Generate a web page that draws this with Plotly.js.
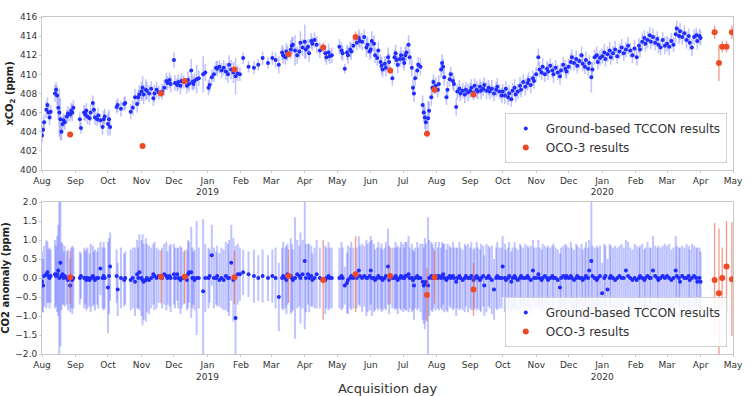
<!DOCTYPE html>
<html>
<head>
<meta charset="utf-8">
<script src="https://cdn.plot.ly/plotly-3.0.1.min.js"></script>
<style>html,body{margin:0;padding:0;background:#fff;}#chart{width:750px;height:396px;}</style>
</head>
<body>
<div id="chart"></div>
<script>
// ---- TCCON ground-based daily results ----
const tcconDates = [
"2018-08-01","2018-08-02","2018-08-03","2018-08-05","2018-08-06","2018-08-07","2018-08-08","2018-08-09","2018-08-13","2018-08-14","2018-08-15","2018-08-16","2018-08-17","2018-08-18","2018-08-19","2018-08-20","2018-08-21","2018-08-22","2018-08-24","2018-08-25","2018-08-27","2018-08-28","2018-08-29","2018-08-30",
"2018-09-05","2018-09-06","2018-09-09","2018-09-10","2018-09-11","2018-09-12","2018-09-14","2018-09-15","2018-09-17","2018-09-18","2018-09-19","2018-09-21","2018-09-22","2018-09-24","2018-09-26","2018-09-27","2018-09-28",
"2018-10-01","2018-10-02","2018-10-03","2018-10-09","2018-10-10","2018-10-13","2018-10-16","2018-10-17","2018-10-22","2018-10-24","2018-10-26","2018-10-28","2018-10-29","2018-10-30",
"2018-11-01","2018-11-02","2018-11-03","2018-11-05","2018-11-06","2018-11-08","2018-11-10","2018-11-12","2018-11-13","2018-11-15","2018-11-17","2018-11-20","2018-11-22","2018-11-24","2018-11-25","2018-11-27","2018-11-28",
"2018-12-01","2018-12-02","2018-12-04","2018-12-05","2018-12-07","2018-12-08","2018-12-10","2018-12-13","2018-12-14","2018-12-15","2018-12-17","2018-12-18","2018-12-19","2018-12-20","2018-12-22","2018-12-24","2018-12-28","2018-12-30",
"2019-01-02","2019-01-03","2019-01-05","2019-01-07","2019-01-09","2019-01-10","2019-01-12","2019-01-14","2019-01-16","2019-01-18","2019-01-20","2019-01-21","2019-01-23","2019-01-25","2019-01-27","2019-01-29","2019-01-31",
"2019-02-03","2019-02-08","2019-02-13","2019-02-17","2019-02-21","2019-02-26",
"2019-03-02","2019-03-05","2019-03-08","2019-03-11","2019-03-12","2019-03-14","2019-03-15","2019-03-16","2019-03-19","2019-03-20","2019-03-21","2019-03-23","2019-03-25","2019-03-27","2019-03-28","2019-03-30",
"2019-04-01","2019-04-02","2019-04-04","2019-04-05","2019-04-07","2019-04-08","2019-04-10","2019-04-12","2019-04-15","2019-04-20","2019-04-21","2019-04-23","2019-04-24","2019-04-26",
"2019-05-03","2019-05-05","2019-05-06","2019-05-08","2019-05-10","2019-05-11","2019-05-13","2019-05-14","2019-05-16","2019-05-19","2019-05-21","2019-05-22","2019-05-24","2019-05-26","2019-05-28","2019-05-29","2019-05-31",
"2019-06-01","2019-06-02","2019-06-04","2019-06-05","2019-06-07","2019-06-08","2019-06-10","2019-06-11","2019-06-12","2019-06-14","2019-06-15","2019-06-17","2019-06-18","2019-06-21","2019-06-23","2019-06-24","2019-06-25","2019-06-26","2019-06-28","2019-06-29",
"2019-07-01","2019-07-02","2019-07-03","2019-07-04","2019-07-06","2019-07-07","2019-07-09","2019-07-10","2019-07-11","2019-07-12","2019-07-14","2019-07-15","2019-07-17","2019-07-19","2019-07-20","2019-07-21","2019-07-22","2019-07-24","2019-07-25","2019-07-27","2019-07-28","2019-07-29","2019-07-31",
"2019-08-02","2019-08-03","2019-08-05","2019-08-06","2019-08-07","2019-08-08","2019-08-10","2019-08-11","2019-08-13","2019-08-14","2019-08-16","2019-08-17","2019-08-19","2019-08-20","2019-08-22","2019-08-23","2019-08-25","2019-08-27","2019-08-28","2019-08-30",
"2019-09-01","2019-09-02","2019-09-04","2019-09-05","2019-09-07","2019-09-08","2019-09-10","2019-09-11","2019-09-13","2019-09-14","2019-09-16","2019-09-18","2019-09-19","2019-09-21","2019-09-23","2019-09-25","2019-09-26","2019-09-28","2019-09-30",
"2019-10-01","2019-10-03","2019-10-04","2019-10-06","2019-10-07","2019-10-09","2019-10-10","2019-10-12","2019-10-13","2019-10-15","2019-10-17","2019-10-18","2019-10-20","2019-10-22","2019-10-24","2019-10-25","2019-10-27","2019-10-29","2019-10-30",
"2019-11-01","2019-11-03","2019-11-04","2019-11-06","2019-11-07","2019-11-09","2019-11-11","2019-11-12","2019-11-14","2019-11-16","2019-11-17","2019-11-19","2019-11-21","2019-11-23","2019-11-24","2019-11-26","2019-11-28","2019-11-29",
"2019-12-01","2019-12-03","2019-12-04","2019-12-06","2019-12-08","2019-12-09","2019-12-11","2019-12-13","2019-12-14","2019-12-16","2019-12-17","2019-12-19","2019-12-20","2019-12-22","2019-12-23","2019-12-25","2019-12-27","2019-12-28","2019-12-30",
"2020-01-01","2020-01-03","2020-01-04","2020-01-06","2020-01-08","2020-01-09","2020-01-11","2020-01-13","2020-01-15","2020-01-17","2020-01-19","2020-01-21","2020-01-23","2020-01-25","2020-01-27","2020-01-29","2020-01-31",
"2020-02-02","2020-02-04","2020-02-05","2020-02-07","2020-02-09","2020-02-10","2020-02-12","2020-02-14","2020-02-15","2020-02-17","2020-02-19","2020-02-21","2020-02-22","2020-02-24","2020-02-26","2020-02-28",
"2020-03-01","2020-03-03","2020-03-05","2020-03-07","2020-03-09","2020-03-10","2020-03-12","2020-03-13","2020-03-15","2020-03-17","2020-03-19","2020-03-21","2020-03-22","2020-03-24","2020-03-26","2020-03-28","2020-03-29","2020-03-31","2020-04-01"
];
const tcconXco2 = [
403.6,404.2,405.0,406.3,406.8,406.0,405.5,406.1,408.0,408.4,407.8,406.5,406.0,405.3,404.0,404.8,405.2,405.0,405.6,405.9,405.8,406.2,406.0,406.5,
405.3,404.4,406.0,405.8,406.2,405.6,405.4,406.0,407.0,406.3,405.5,405.3,405.7,405.2,404.5,405.3,405.6,
404.8,405.3,404.5,406.6,406.8,406.4,406.9,407.0,406.1,406.5,407.6,406.9,407.6,407.9,
408.2,408.6,407.9,408.4,408.3,408.0,408.5,407.5,408.0,408.4,408.1,408.2,408.6,409.3,409.1,409.4,409.0,
411.5,409.1,408.9,409.2,408.8,409.3,409.2,408.8,409.4,409.0,410.4,409.2,409.0,409.3,409.5,409.6,410.0,410.2,
408.6,408.9,409.7,410.0,410.7,410.6,410.8,410.4,410.7,410.3,410.0,411.0,410.5,410.2,409.8,410.1,410.0,
411.7,410.8,410.7,411.0,411.7,411.2,
411.7,411.5,411.0,412.3,412.0,411.8,412.4,412.2,412.6,413.0,413.1,412.5,412.0,412.4,413.3,412.8,
413.4,412.6,412.9,412.2,413.5,413.2,413.6,413.1,412.5,412.2,411.8,412.3,411.9,412.0,
412.9,412.5,412.2,410.6,412.3,412.0,412.6,412.4,413.0,413.3,413.8,413.5,413.4,413.9,412.8,413.1,412.4,
412.6,413.5,413.2,412.0,411.7,412.5,411.3,410.9,410.5,411.1,410.7,411.8,411.3,409.6,411.8,412.2,411.5,411.0,411.6,412.0,
411.6,411.2,412.0,412.3,413.1,411.8,410.7,408.6,408.0,409.6,410.4,411.0,410.8,406.8,406.0,405.5,405.0,405.4,406.2,407.6,408.6,409.2,408.8,
408.4,409.0,410.5,411.2,410.8,409.7,407.6,408.4,409.5,410.0,409.3,409.0,406.6,408.2,408.5,408.0,408.3,407.9,408.4,408.1,
408.3,408.6,408.1,408.8,408.4,408.2,408.7,408.3,408.5,408.9,408.3,408.6,408.2,408.5,408.0,408.4,408.7,408.2,407.8,
408.2,407.8,408.5,407.6,408.0,407.4,408.3,408.6,407.9,408.2,408.8,408.4,409.2,408.7,409.1,409.4,408.9,409.6,409.3,
410.0,411.8,410.5,410.2,410.8,410.0,410.6,410.3,410.9,410.4,410.0,410.7,410.2,409.8,410.4,411.0,410.6,410.3,
410.8,411.3,411.8,411.2,411.6,410.9,411.4,412.0,411.1,410.8,411.5,410.6,411.2,409.7,410.5,411.8,412.0,411.3,411.7,
411.9,412.3,411.6,412.1,412.5,411.8,412.2,412.6,411.9,412.4,412.8,412.2,412.6,413.0,412.5,412.0,412.7,
411.8,413.0,412.6,413.4,413.8,413.2,413.6,414.1,413.4,413.9,413.3,413.7,413.1,412.8,413.6,413.0,
413.2,412.9,413.5,413.1,414.2,414.8,414.0,414.5,413.9,414.3,413.6,414.0,413.3,412.8,413.9,414.1,413.5,414.0,413.8
];
const tcconErr = [
0.8,0.7,0.8,0.9,0.8,0.7,0.8,0.7,0.9,0.8,1.0,1.2,2.5,2.2,0.9,0.8,0.7,0.8,0.7,0.8,0.7,0.8,0.9,0.8,
0.7,0.6,0.8,0.7,0.8,0.8,0.7,0.9,0.8,0.7,0.8,0.7,0.8,0.7,0.8,0.9,0.8,
1.2,1.0,0.9,0.7,0.7,0.8,0.7,0.7,0.8,0.8,0.9,0.9,0.8,1.0,
1.0,1.2,1.0,1.1,0.9,0.9,0.8,0.8,0.9,0.8,0.7,0.8,0.8,0.9,0.7,0.8,0.9,
0.8,0.8,0.7,0.8,0.9,0.8,0.7,0.8,0.9,0.8,1.2,0.8,0.7,0.8,1.5,0.8,1.9,0.9,
0.8,0.7,0.8,0.8,0.7,0.8,0.7,0.8,0.8,0.9,0.9,1.0,1.0,1.1,1.9,0.8,0.7,
0.6,0.6,0.7,0.6,0.7,0.6,
0.7,0.8,0.9,0.8,0.9,0.8,0.9,0.8,1.0,0.9,0.8,1.6,0.9,0.8,1.2,0.9,
1.8,0.9,0.8,0.9,0.8,0.7,0.8,0.9,0.8,0.9,0.8,0.9,0.8,0.8,
0.8,0.9,0.8,0.5,0.8,0.9,0.8,0.9,0.8,0.8,0.9,0.8,0.9,0.8,1.0,0.9,0.9,
0.9,1.0,0.9,0.8,0.8,0.9,0.8,0.9,0.8,0.8,0.9,1.0,0.9,0.8,0.8,0.9,0.8,0.9,0.8,0.9,
0.9,0.8,0.9,0.9,1.0,0.8,0.9,0.8,0.9,0.8,0.9,0.8,0.9,1.0,1.0,1.2,1.0,1.8,1.0,0.9,0.9,0.8,0.9,
0.8,0.9,0.8,0.9,0.8,0.9,0.8,0.9,0.8,0.8,0.9,0.8,0.9,0.8,0.9,0.8,0.8,0.9,0.8,0.9,
0.8,0.9,0.8,0.8,0.9,0.8,0.8,0.9,0.8,0.8,0.9,0.8,0.8,0.9,0.8,0.8,0.9,0.8,0.8,
0.8,0.9,0.8,0.8,0.9,0.8,0.8,0.9,0.8,0.8,0.9,0.8,0.8,0.9,0.8,0.8,0.9,0.8,0.8,
0.8,0.9,0.8,0.8,0.9,0.8,0.8,0.9,0.8,0.8,0.9,0.8,0.8,0.9,0.8,0.8,0.9,0.8,
0.8,0.9,0.8,0.8,0.9,0.8,0.8,0.9,0.8,0.8,0.9,0.8,0.8,1.6,0.8,0.8,0.9,0.8,0.8,
0.8,0.9,0.8,0.8,0.9,0.8,0.8,0.9,0.8,0.8,0.9,0.8,0.8,0.9,0.8,0.8,0.9,
0.9,0.8,0.8,0.9,0.8,0.8,0.9,0.8,0.8,0.9,0.8,0.8,0.9,0.8,0.8,0.9,
0.8,0.9,0.8,0.8,0.9,0.8,0.8,0.9,0.8,0.8,0.9,0.8,0.8,0.9,0.8,0.8,0.9,0.8,0.8
];
const tcconAnomaly = [
-0.1,-0.2,0.05,0.1,0.15,0.05,0.0,0.05,0.1,0.05,0.1,0.2,0.0,0.4,0.05,0.1,0.0,0.05,0.0,-0.05,-0.2,0.0,-0.05,0.0,
0.0,0.05,0.0,0.0,-0.05,0.0,-0.05,0.0,0.05,0.0,-0.05,0.0,0.0,0.25,0.0,0.05,0.0,
-0.25,0.05,0.3,0.05,-0.3,0.0,-0.05,0.0,-0.05,0.0,-0.1,0.1,0.0,0.15,
0.0,-0.05,-0.1,-0.05,0.0,-0.05,0.0,0.1,0.05,0.0,0.05,0.0,0.1,0.05,0.0,0.05,0.0,
0.1,0.0,0.1,0.0,-0.05,0.0,0.0,-0.05,0.1,0.15,0.15,0.0,0.0,-0.05,0.0,0.0,-0.35,0.0,
0.0,0.05,0.6,0.0,0.0,0.05,-0.05,0.0,-0.05,0.05,0.0,0.0,0.4,-0.05,-1.05,0.1,0.1,
0.15,0.1,0.05,0.0,0.05,0.0,
0.05,0.0,-0.5,0.0,0.05,0.0,-0.05,0.1,0.05,0.0,-0.05,0.0,0.1,0.05,0.0,0.1,
0.45,0.0,0.1,0.0,0.05,-0.05,0.0,0.1,0.0,-0.05,0.0,0.05,0.0,0.0,
0.0,0.05,0.0,-0.2,-0.13,-0.05,0.0,0.05,0.0,0.0,0.2,0.05,0.0,0.05,0.0,0.0,0.05,
0.2,0.0,0.0,-0.05,0.0,0.05,0.0,0.0,-0.05,0.0,0.05,0.3,-0.05,0.0,0.0,0.05,0.0,-0.05,0.0,0.05,
0.0,0.0,0.05,0.05,0.1,0.0,0.0,-0.05,-0.2,0.0,0.05,0.0,0.0,-0.1,-0.2,-0.15,-0.1,-0.2,0.0,0.05,0.0,0.0,0.05,
0.0,0.05,0.0,0.05,0.1,0.0,-0.05,0.0,0.05,0.0,0.05,0.0,-0.1,0.0,0.05,0.0,-0.05,0.0,0.05,0.0,
0.0,0.05,-0.05,0.0,0.05,0.0,-0.05,0.0,0.05,-0.2,0.0,0.05,0.0,-0.05,-0.3,0.0,0.05,0.0,0.0,
0.3,0.0,-0.05,0.0,0.05,-0.1,0.0,0.05,0.0,-0.05,0.0,0.05,0.0,0.0,0.05,0.0,-0.05,0.2,0.0,
0.0,0.1,0.0,-0.05,0.0,0.05,0.0,-0.05,0.0,0.05,0.0,0.0,-0.05,-0.25,0.0,0.05,0.0,0.05,
0.0,0.05,0.0,-0.05,0.0,0.05,0.0,0.0,-0.05,0.0,0.05,0.0,0.2,0.45,0.05,0.0,-0.05,0.0,0.05,
-0.4,0.0,0.05,-0.3,0.0,0.05,0.0,-0.05,0.0,0.05,0.0,0.0,0.2,0.05,0.0,-0.05,0.0,
-0.05,0.0,0.05,0.0,-0.05,0.0,0.05,0.0,0.0,0.2,0.05,0.0,-0.05,0.0,0.05,0.0,
0.05,0.0,-0.05,0.0,0.2,0.05,0.0,-0.1,0.05,0.0,0.0,0.05,-0.05,0.0,0.05,0.0,-0.1,0.0,-0.1
];

// ---- OCO-3 results ----
const ocoDates = ["2018-08-27","2018-11-02","2018-11-19","2018-12-11","2019-01-26","2019-03-17","2019-04-18","2019-05-18","2019-06-19","2019-07-23","2019-07-30","2019-09-04","2020-04-14","2020-04-18","2020-04-21","2020-04-25","2020-04-30"];
const ocoXco2 = [403.7,402.5,408.0,409.3,410.5,412.1,412.8,413.9,410.4,403.8,408.4,407.9,414.4,411.2,412.9,412.9,414.4];
const ocoErr = [0.3,0.15,0.3,0.3,0.3,0.3,0.5,0.6,0.4,0.2,0.4,0.4,0.7,1.9,0.6,0.6,0.7];
const ocoAnomaly = [0.02,null,0.03,0.03,0.02,0.05,-0.05,0.1,0.05,-0.45,0.02,-0.3,-0.05,-0.4,0.0,0.3,-0.03];
const ocoAnomalyErr = [0.7,0,0.7,0.7,0.7,0.7,1.05,1.0,0.75,0.7,0.7,0.7,1.5,1.7,0.8,1.2,1.5];

// ---- axis ticks ----
const monthTicks = ["2018-08-01","2018-09-01","2018-10-01","2018-11-01","2018-12-01","2019-01-01","2019-02-01","2019-03-01","2019-04-01","2019-05-01","2019-06-01","2019-07-01","2019-08-01","2019-09-01","2019-10-01","2019-11-01","2019-12-01","2020-01-01","2020-02-01","2020-03-01","2020-04-01","2020-05-01"];
const monthLabels = ["Aug","Sep","Oct","Nov","Dec","Jan<br>2019","Feb","Mar","Apr","May","Jun","Jul","Aug","Sep","Oct","Nov","Dec","Jan<br>2020","Feb","Mar","Apr","May"];
const legendNames = ["Ground-based TCCON results","OCO-3 results"];

const FONT = "DejaVu Sans, sans-serif";
const BLUE = "#1f2bff";
const BLUE_ERR = "rgba(60,70,255,0.32)";
const RED = "#ef4a26";
const RED_ERR = "rgba(235,80,50,0.55)";

const traces = [
  {x: tcconDates, y: tcconXco2, type: "scatter", mode: "markers", name: legendNames[0],
   marker: {color: BLUE, size: 4}, error_y: {type: "data", array: tcconErr, visible: true, color: BLUE_ERR, thickness: 1.6, width: 0},
   xaxis: "x", yaxis: "y", legend: "legend"},
  {x: ocoDates, y: ocoXco2, type: "scatter", mode: "markers", name: legendNames[1],
   marker: {color: RED, size: 6}, error_y: {type: "data", array: ocoErr, visible: true, color: RED_ERR, thickness: 1.4, width: 0},
   xaxis: "x", yaxis: "y", legend: "legend"},
  {x: tcconDates, y: tcconAnomaly, type: "scatter", mode: "markers", name: legendNames[0],
   marker: {color: BLUE, size: 4}, error_y: {type: "data", array: tcconErr, visible: true, color: BLUE_ERR, thickness: 2, width: 0},
   xaxis: "x2", yaxis: "y2", legend: "legend2"},
  {x: ocoDates, y: ocoAnomaly, type: "scatter", mode: "markers", name: legendNames[1],
   marker: {color: RED, size: 6}, error_y: {type: "data", array: ocoAnomalyErr, visible: true, color: RED_ERR, thickness: 1.4, width: 0},
   xaxis: "x2", yaxis: "y2", legend: "legend2"}
];

const xBase = {
  type: "date", range: ["2018-08-01", "2020-05-01"], tickmode: "array",
  tickvals: monthTicks, ticktext: monthLabels, showgrid: false, zeroline: false,
  showline: true, mirror: true, linecolor: "#c8c8c8", linewidth: 1,
  ticks: "outside", ticklen: 2, tickcolor: "#c8c8c8",
  tickfont: {family: FONT, size: 9, color: "#333"}
};
const yBase = {
  showgrid: false, zeroline: false, showline: true, mirror: true,
  linecolor: "#c8c8c8", linewidth: 1, ticks: "outside", ticklen: 2, tickcolor: "#c8c8c8",
  tickfont: {family: FONT, size: 9, color: "#333"}
};
const legendBase = {
  xanchor: "right", yanchor: "bottom", bgcolor: "rgba(255,255,255,0.85)",
  bordercolor: "#d0d0d0", borderwidth: 1, font: {family: FONT, size: 12, color: "#333"},
  itemsizing: "trace", tracegroupgap: 0, itemwidth: 30
};

const layout = {
  width: 750, height: 396,
  margin: {l: 42, r: 17, t: 17, b: 42},
  paper_bgcolor: "#fff", plot_bgcolor: "#fff",
  font: {family: FONT, color: "#333"},
  xaxis: Object.assign({}, xBase, {domain: [0, 1], anchor: "y"}),
  yaxis: Object.assign({}, yBase, {domain: [0.546, 1], anchor: "x", range: [400, 416], dtick: 2, tick0: 400,
    title: {text: "<b>xCO<sub>2</sub> (ppm)</b>", font: {family: FONT, size: 10, color: "#222"}, standoff: 4}}),
  xaxis2: Object.assign({}, xBase, {domain: [0, 1], anchor: "y2",
    title: {text: "Acquisition day", font: {family: FONT, size: 13, color: "#333"}, standoff: 4}}),
  yaxis2: Object.assign({}, yBase, {domain: [0, 0.451], anchor: "x2", range: [-2, 2], dtick: 0.5, tick0: 0, tickformat: ".1f",
    title: {text: "<b>CO2 anomaly (ppm)</b>", font: {family: FONT, size: 10, color: "#222"}, standoff: 4}}),
  legend: Object.assign({}, legendBase, {x: 0.991, y: 0.567}),
  legend2: Object.assign({}, legendBase, {x: 0.991, y: 0.021}),
  showlegend: true
};

Plotly.newPlot("chart", traces, layout, {staticPlot: true, displayModeBar: false});
</script>
</body>
</html>
